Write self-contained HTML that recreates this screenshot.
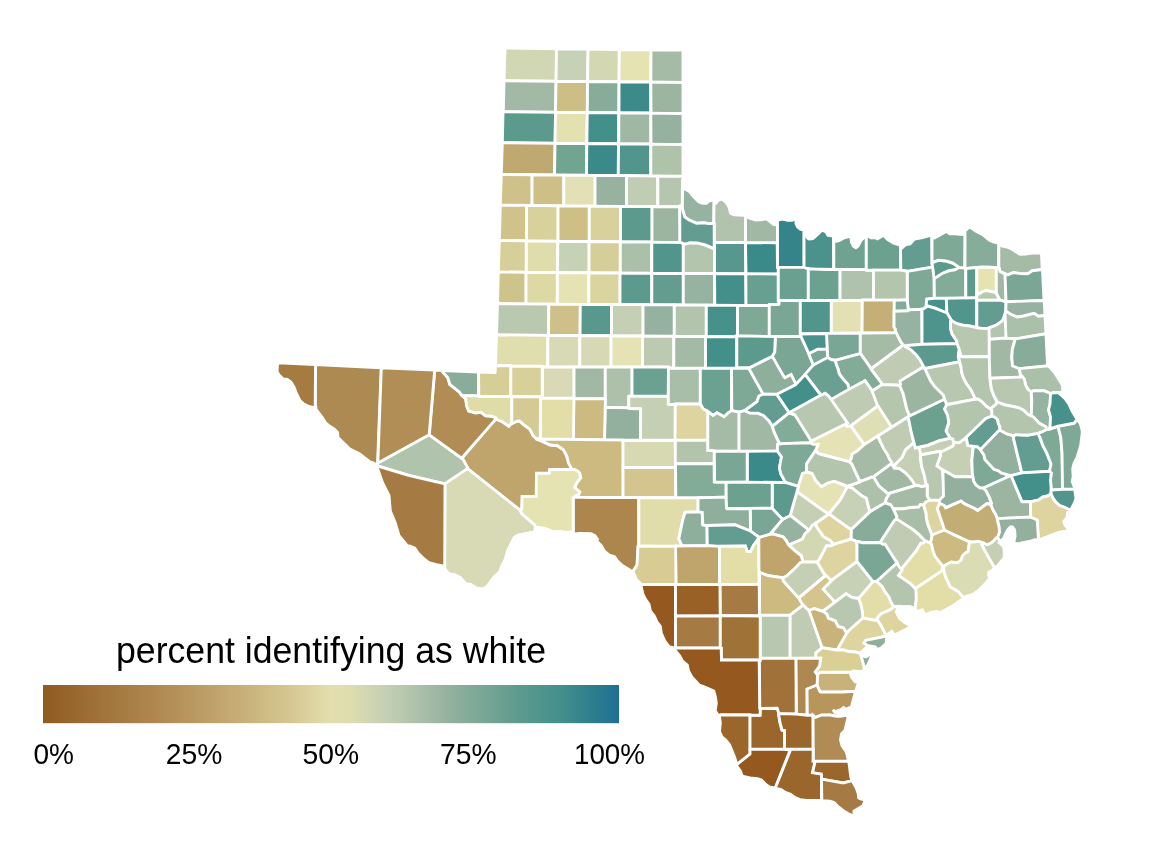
<!DOCTYPE html>
<html lang="en">
<head>
<meta charset="utf-8">
<title>percent identifying as white</title>
<style>
html,body{margin:0;padding:0;background:#fff;}
body{width:1152px;height:864px;overflow:hidden;position:relative;font-family:"Liberation Sans",sans-serif;}
svg{position:absolute;left:0;top:0;display:block;}
.c polygon{stroke:#fff;stroke-width:2.7;stroke-linejoin:miter;stroke-miterlimit:3;}
text{font-family:"Liberation Sans",sans-serif;fill:#000;}
</style>
</head>
<body>
<svg width="1152" height="864" viewBox="0 0 1152 864">
<g class="c">
<polygon fill="#D2D7B3" points="505.1,48.9 504.1,80.6 555.9,81.1 556.4,48.9 506.4,48.1"/>
<polygon fill="#C6D1B5" points="556.6,48.9 556.1,81.1 587.4,81.4 587.9,49.1"/>
<polygon fill="#D3D8B3" points="588.1,49.1 587.6,81.4 618.9,81.6 619.1,49.6"/>
<polygon fill="#E5E3B2" points="619.4,49.6 619.1,81.6 650.6,81.9 650.9,49.9"/>
<polygon fill="#A5BBA6" points="651.1,49.9 650.9,81.9 682.9,82.4 682.9,50.9 681.6,50.1"/>
<polygon fill="#A2B9A5" points="504.1,80.9 503.4,111.6 555.4,112.1 555.9,81.4"/>
<polygon fill="#CDBE86" points="556.1,81.4 555.6,112.1 587.1,112.4 587.4,81.6"/>
<polygon fill="#87AC9A" points="587.6,81.6 587.4,112.4 618.6,112.6 618.9,81.9"/>
<polygon fill="#3C8A8A" points="619.1,81.9 619.1,112.9 650.6,112.9 650.6,82.1"/>
<polygon fill="#9BB5A1" points="650.9,82.1 651.1,113.1 682.9,113.4 682.9,82.6"/>
<polygon fill="#5D9A8E" points="503.1,111.9 502.4,142.6 554.9,143.1 555.4,112.4"/>
<polygon fill="#E4E1B1" points="555.6,112.4 555.1,143.1 586.6,143.4 587.1,112.6"/>
<polygon fill="#43908B" points="587.4,112.6 586.9,143.4 618.4,143.6 618.6,112.9"/>
<polygon fill="#9FB8A3" points="618.9,112.9 618.9,143.9 650.6,143.9 650.6,113.1"/>
<polygon fill="#95B2A0" points="650.9,113.1 651.1,144.1 682.9,144.4 682.9,113.6"/>
<polygon fill="#C0A970" points="502.4,142.9 501.4,174.4 554.4,174.9 554.9,143.4"/>
<polygon fill="#71A592" points="555.1,143.4 554.6,174.9 586.4,175.1 586.6,143.6"/>
<polygon fill="#3B8A8A" points="586.9,143.6 586.6,175.1 618.1,175.4 618.4,143.9"/>
<polygon fill="#52958D" points="618.6,143.9 618.4,175.4 650.6,175.9 650.6,144.1"/>
<polygon fill="#AFC2AA" points="650.9,144.1 650.9,175.9 682.9,176.1 682.9,144.6"/>
<polygon fill="#CFC189" points="501.4,174.6 500.4,205.1 531.9,205.4 531.9,174.9"/>
<polygon fill="#CEBF87" points="532.1,174.9 532.1,205.4 563.6,205.9 563.6,175.1"/>
<polygon fill="#E2E0B4" points="563.9,175.1 563.9,205.9 594.9,206.1 594.9,175.4"/>
<polygon fill="#97B3A0" points="595.1,175.4 595.1,206.1 626.4,206.4 626.4,175.6"/>
<polygon fill="#C0CDB3" points="626.6,175.6 626.6,206.4 657.6,206.6 657.6,176.1"/>
<polygon fill="#B5C6AE" points="657.9,176.1 657.9,206.6 679.6,206.6 679.9,204.9 680.9,206.9 682.1,207.6 682.4,180.1 682.9,179.6 682.9,176.4"/>
<polygon fill="#CFC28B" points="500.4,205.4 499.4,240.4 526.4,240.6 526.4,205.4"/>
<polygon fill="#D8D19C" points="526.6,205.4 526.6,240.9 557.9,241.1 557.9,205.9"/>
<polygon fill="#CEBF87" points="558.1,205.9 558.1,241.4 589.1,241.4 589.1,206.1"/>
<polygon fill="#D8D19B" points="589.4,206.1 589.4,241.6 620.4,241.6 620.4,206.4"/>
<polygon fill="#5C9A8E" points="620.6,206.4 620.6,241.9 651.9,241.9 651.9,206.6"/>
<polygon fill="#9BB5A1" points="652.1,206.6 652.1,242.1 679.9,242.4 679.6,206.9"/>
<polygon fill="#D7CF99" points="499.4,240.6 498.4,271.9 526.1,272.1 526.1,240.9"/>
<polygon fill="#E0DDAD" points="526.4,240.9 526.4,272.4 557.4,272.4 557.6,241.4"/>
<polygon fill="#C7D1B5" points="557.9,241.4 557.6,272.6 588.9,272.6 588.9,241.6"/>
<polygon fill="#D6CE98" points="589.1,241.6 589.1,272.9 620.1,272.9 620.1,241.9"/>
<polygon fill="#AAC0A9" points="620.4,241.9 620.4,273.1 651.6,273.1 651.6,242.1"/>
<polygon fill="#52958D" points="651.9,242.1 651.9,273.1 683.1,273.4 683.1,243.6 680.9,242.6"/>
<polygon fill="#B4C5AD" points="683.4,243.9 683.4,273.4 714.4,273.4 714.4,242.9 714.1,248.9 704.6,244.9 697.4,243.1 690.1,242.9 684.4,244.4"/>
<polygon fill="#58978D" points="714.6,242.6 714.6,273.4 745.6,273.6 745.4,242.6"/>
<polygon fill="#3B8A8A" points="745.6,242.6 746.1,273.9 778.1,273.9 778.1,267.6 777.4,267.4 777.1,242.9"/>
<polygon fill="#CFC38C" points="498.4,272.1 497.6,301.9 499.6,303.6 525.9,303.9 525.9,272.4"/>
<polygon fill="#DDD8A4" points="526.1,272.4 526.1,303.9 557.1,304.1 557.1,272.6"/>
<polygon fill="#E5E3B3" points="557.4,272.6 557.4,304.1 588.6,304.4 588.6,272.9"/>
<polygon fill="#DAD49F" points="588.9,272.9 588.9,304.4 619.9,304.4 619.9,273.1"/>
<polygon fill="#5D9A8E" points="620.1,273.1 620.1,304.4 651.6,304.6 651.6,273.4"/>
<polygon fill="#649D8F" points="651.9,273.4 651.9,304.6 683.1,304.9 683.1,273.6"/>
<polygon fill="#96B2A0" points="683.4,273.6 683.4,304.9 714.6,305.1 714.4,273.6"/>
<polygon fill="#43908B" points="714.6,273.6 714.9,305.1 745.9,305.4 745.6,273.9"/>
<polygon fill="#67A090" points="745.9,273.9 746.1,305.4 769.1,305.4 769.4,304.4 778.9,304.1 778.9,301.4 778.1,300.9 778.1,274.1"/>
<polygon fill="#B9C9B0" points="497.6,302.1 496.6,334.6 548.4,335.4 548.6,304.1 499.6,303.9"/>
<polygon fill="#CFC089" points="548.9,304.1 548.6,335.4 579.9,335.4 580.1,304.4"/>
<polygon fill="#59988D" points="580.4,304.4 580.1,335.6 611.4,335.6 611.4,304.6"/>
<polygon fill="#C4CFB4" points="611.6,304.6 611.6,335.9 642.9,335.9 642.9,304.6"/>
<polygon fill="#95B2A0" points="643.1,304.6 643.1,336.1 674.1,336.1 674.1,304.9"/>
<polygon fill="#B2C4AC" points="674.4,304.9 674.4,336.4 706.1,336.6 706.1,305.1"/>
<polygon fill="#47918B" points="706.4,305.1 706.4,336.6 736.6,336.6 736.6,335.9 737.4,335.9 737.4,305.4"/>
<polygon fill="#7FA997" points="737.6,305.4 737.6,335.9 769.1,336.4 769.1,305.6"/>
<polygon fill="#E1DEAD" points="496.6,334.9 495.6,364.1 497.1,365.6 510.9,365.6 511.1,366.1 542.1,366.1 542.6,366.9 547.6,366.9 547.6,335.4"/>
<polygon fill="#D8DAB5" points="547.9,335.4 547.9,366.9 579.6,366.9 579.6,335.6"/>
<polygon fill="#D7D9B4" points="579.9,335.6 579.9,366.9 610.9,366.9 610.9,335.9"/>
<polygon fill="#E5E3B3" points="611.1,335.9 611.1,366.9 642.4,366.9 642.4,336.1"/>
<polygon fill="#BCCAB1" points="642.6,336.1 642.6,366.9 668.4,366.9 668.9,367.9 673.6,367.9 673.6,336.4"/>
<polygon fill="#A3BAA5" points="673.9,336.4 673.9,368.1 705.4,368.1 705.4,336.6"/>
<polygon fill="#43908B" points="705.6,336.6 705.6,368.1 736.6,368.1 736.6,336.9"/>
<polygon fill="#5D9A8E" points="768.9,358.1 749.4,367.9 736.9,368.1 749.1,368.1"/>
<polygon fill="#BFA56B" points="496.4,419.6 495.1,420.1 489.6,426.1 462.4,457.9 468.4,469.1 519.4,509.6 520.6,510.1 521.6,509.1 522.1,496.4 536.1,496.1 536.4,473.1 549.1,473.1 549.6,469.4 571.9,469.1 568.4,463.1 566.6,456.1 563.6,450.1 557.4,445.9 550.1,445.1 542.1,441.4 536.6,439.4 536.6,438.6 535.4,438.1 532.9,435.4 529.6,429.1 523.1,424.4 519.9,421.4 517.6,421.1 511.1,423.9 508.9,426.4 501.9,421.6"/>
<polygon fill="#AD8A52" points="315.6,364.6 315.4,407.1 315.9,407.1 316.1,409.4 322.4,417.4 325.4,422.4 329.4,425.9 334.4,429.1 337.6,432.4 338.1,437.4 349.9,448.9 359.4,453.6 369.4,461.4 374.1,463.1 375.4,464.1 375.9,465.4 377.4,465.6 381.1,367.9"/>
<polygon fill="#B0C3AD" points="467.9,468.4 462.1,457.9 461.6,458.4 429.1,434.9 377.9,463.1 377.6,465.1 377.9,465.9 408.4,475.1 444.1,483.6 445.4,483.4"/>
<polygon fill="#D9DAB5" points="542.6,367.1 542.6,396.9 542.1,397.6 542.6,398.1 573.9,398.1 573.9,367.1"/>
<polygon fill="#A0B8A4" points="574.1,367.1 574.1,398.6 605.1,398.6 605.1,367.1"/>
<polygon fill="#ADC1AA" points="605.4,367.1 605.4,406.6 606.1,407.4 627.9,407.6 628.6,406.9 628.6,396.4 629.4,395.9 631.9,395.6 631.9,367.1"/>
<polygon fill="#6AA190" points="632.1,367.1 632.1,396.1 668.1,396.1 668.4,367.1"/>
<polygon fill="#C4CFB4" points="628.9,396.4 628.9,406.9 628.1,407.6 628.9,408.4 640.6,408.9 640.6,440.1 675.1,439.9 675.1,404.6 668.9,404.6 668.1,404.1 668.1,396.4"/>
<polygon fill="#93B09F" points="605.4,407.9 604.6,439.9 640.4,440.1 640.4,408.9 628.9,408.6 628.1,407.9 605.9,407.4"/>
<polygon fill="#CDBA80" points="573.9,398.9 573.6,439.4 604.4,439.9 605.1,407.9 605.6,407.4 605.1,406.6 605.4,398.9"/>
<polygon fill="#E3DDA8" points="541.1,397.6 540.6,398.1 540.6,438.9 573.4,439.4 573.9,398.4 542.6,398.4 541.9,397.6"/>
<polygon fill="#CDBA80" points="536.6,439.1 542.1,441.1 550.1,444.9 557.4,445.6 563.4,449.6 566.9,456.1 568.6,463.1 572.1,469.4 574.6,469.4 577.9,471.1 579.9,473.4 580.9,477.6 576.9,482.9 574.9,487.4 579.9,491.9 578.4,495.1 576.4,495.6 574.6,496.6 574.9,497.1 622.9,497.4 622.9,440.6 623.6,440.1 540.6,439.1 540.1,439.6 537.4,438.9"/>
<polygon fill="#D7D9B3" points="623.1,440.6 623.1,467.4 675.4,467.4 675.1,440.4"/>
<polygon fill="#D3C58D" points="623.1,467.6 623.1,497.4 675.6,497.6 675.4,467.6"/>
<polygon fill="#96B2A0" points="682.9,179.9 682.4,208.4 684.9,216.9 689.1,219.9 696.4,223.1 704.1,222.6 708.1,223.4 713.6,223.1 713.9,201.4 712.4,200.4 709.4,200.9 706.4,203.4 702.4,203.4 698.6,201.9 693.4,196.6 689.4,191.6 685.4,189.4 682.9,188.6"/>
<polygon fill="#B1C3AD" points="714.1,201.6 713.9,223.1 714.4,223.6 714.4,241.9 714.9,242.4 745.4,242.4 745.4,215.9 744.1,215.4 734.1,214.9 730.9,213.6 730.4,213.1 729.1,207.6 726.6,203.1 722.6,199.4 721.9,199.1 718.9,199.9 716.1,203.1"/>
<polygon fill="#A0B8A4" points="745.6,216.1 745.6,242.4 776.9,242.6 777.4,242.1 777.4,221.6 775.9,224.4 774.6,224.9 773.6,224.6 767.6,219.6 766.1,218.9 760.9,219.9 755.4,220.1 748.9,218.1"/>
<polygon fill="#35848A" points="778.6,219.9 777.6,221.1 777.6,242.1 777.1,242.6 777.6,243.1 777.6,267.4 803.9,267.1 803.9,229.9 800.6,229.4 797.6,227.1 795.9,223.6 795.9,219.9 794.6,219.1 792.4,220.4 787.9,220.4 782.6,219.1"/>
<polygon fill="#4A928C" points="804.1,229.9 804.1,267.1 807.1,268.4 810.1,268.9 833.6,269.4 833.4,236.9 831.9,235.9 827.9,235.4 825.9,232.1 822.6,230.4 820.9,231.4 812.9,238.6 809.1,239.1 807.4,238.1 805.1,230.9"/>
<polygon fill="#6FA291" points="833.9,237.6 833.9,269.4 866.1,269.4 866.1,236.6 864.4,237.4 860.6,241.1 858.4,245.9 855.9,247.9 853.4,246.4 851.4,242.4 850.9,238.1 850.1,236.6 849.4,236.4 843.6,238.1 839.6,240.6 836.6,241.4"/>
<polygon fill="#69A090" points="778.4,267.4 778.4,300.9 779.1,301.4 779.6,300.4 808.1,300.4 808.1,268.9 804.1,267.4"/>
<polygon fill="#6CA190" points="808.4,268.9 808.4,300.4 839.9,300.4 839.9,269.6 825.9,269.6"/>
<polygon fill="#AFC2AB" points="840.1,269.6 840.1,300.4 862.1,300.4 862.4,299.9 873.4,299.9 873.4,270.4 866.4,270.4 866.1,269.6"/>
<polygon fill="#79A695" points="769.4,304.6 769.4,336.4 800.6,336.1 800.4,334.1 800.9,333.6 800.1,333.4 800.1,300.6 779.6,300.6 779.1,301.6 779.1,304.1 778.6,304.6"/>
<polygon fill="#52958D" points="800.4,300.6 800.4,333.4 815.9,333.6 831.1,333.1 831.1,300.6"/>
<polygon fill="#E3E1B3" points="831.4,300.6 831.4,333.1 861.9,332.9 862.1,300.6"/>
<polygon fill="#E5E3B5" points="864.1,444.6 851.1,426.4 847.1,426.4 845.6,424.9 844.1,424.9 810.6,441.4 809.6,442.4 813.1,444.1 818.1,444.4 816.1,449.6 816.1,450.6 818.4,453.4 849.1,461.6 850.1,460.6 851.4,457.9 851.9,454.1 857.1,450.9"/>
<polygon fill="#A67B43" points="759.1,582.6 758.6,584.4 720.1,584.4 720.4,615.4 758.1,615.6 759.4,615.1"/>
<polygon fill="#6CA190" points="866.4,236.6 866.4,270.1 900.6,269.9 900.4,245.9 899.1,244.9 893.1,242.9 887.4,239.4 883.9,235.9 883.1,235.6 877.4,238.9 874.6,237.6 870.6,237.9 867.9,235.9"/>
<polygon fill="#639C90" points="931.6,236.6 929.6,235.6 921.4,237.9 914.6,239.1 910.1,243.9 905.4,244.9 902.4,247.6 900.6,246.1 900.9,270.1 908.4,271.1 932.4,267.1 931.9,263.9"/>
<polygon fill="#7FA997" points="964.9,231.1 962.1,234.6 955.1,233.9 949.6,233.9 946.6,231.4 934.4,238.1 933.6,238.1 932.1,237.1 932.1,262.6 938.4,260.1 946.6,261.1 952.9,263.1 959.4,267.6 964.6,267.9"/>
<polygon fill="#87AC9A" points="968.9,227.6 965.1,230.9 965.1,267.6 964.6,268.1 966.4,268.4 981.9,266.9 994.6,267.4 998.6,267.1 998.6,243.9 997.4,242.9 993.9,242.1 989.4,240.4 982.9,234.9 976.4,231.6 970.9,227.9 969.6,227.4"/>
<polygon fill="#A5BBA6" points="998.9,244.1 998.9,266.9 1000.1,271.6 1007.1,274.6 1008.1,274.6 1013.4,272.4 1019.9,273.4 1027.9,273.6 1032.1,270.6 1042.1,269.4 1041.4,253.6 1040.9,253.1 1034.1,252.9 1025.6,254.1 1019.9,254.4 1011.6,249.1 1007.1,247.1 1001.6,245.9"/>
<polygon fill="#5D9A8E" points="932.1,262.9 934.1,278.6 942.6,273.1 948.9,270.6 954.9,269.6 958.9,267.6 952.9,263.4 946.6,261.4 938.4,260.4"/>
<polygon fill="#82AB98" points="965.6,268.6 964.4,268.1 959.1,267.6 954.9,269.9 948.9,270.9 942.1,273.6 934.1,278.9 934.4,298.1 965.6,297.9"/>
<polygon fill="#7FA997" points="932.6,267.1 907.4,271.4 907.4,301.4 908.4,308.9 908.9,309.9 921.4,309.1 923.6,308.6 925.9,307.1 926.6,299.1 934.1,298.1 933.9,278.1"/>
<polygon fill="#B3C5AD" points="873.6,270.1 873.6,299.9 900.4,300.1 907.1,299.6 907.1,271.4 900.6,270.1"/>
<polygon fill="#82AB98" points="907.1,299.9 894.1,300.4 894.1,311.1 908.1,310.6 908.6,309.9 908.1,308.9"/>
<polygon fill="#C4AF76" points="862.4,300.1 862.1,332.9 893.9,332.6 895.6,331.9 895.1,329.1 893.9,326.9 894.1,300.1"/>
<polygon fill="#47918B" points="926.9,299.1 926.1,306.9 927.9,305.9 935.4,308.1 946.9,312.9 946.1,298.4 934.1,298.4"/>
<polygon fill="#52958D" points="976.6,297.6 946.4,298.4 946.9,312.4 951.4,320.4 957.1,323.6 964.4,325.4 969.9,325.9 976.1,327.4 976.6,326.4"/>
<polygon fill="#5D9A8E" points="976.6,267.6 965.9,268.6 965.9,297.9 976.6,297.4"/>
<polygon fill="#E5E3B2" points="976.9,267.6 976.9,294.9 982.1,291.9 986.4,290.4 993.6,291.9 996.1,292.9 996.1,267.9 994.4,267.4 988.1,267.1"/>
<polygon fill="#B9C9B0" points="976.9,295.1 976.9,300.1 999.6,300.1 996.4,293.4 993.6,292.1 986.4,290.6 982.1,292.1"/>
<polygon fill="#A0B8A4" points="995.9,267.4 996.4,267.9 996.4,293.1 1000.1,300.1 1005.9,301.6 1004.9,273.9 999.9,271.6 998.9,267.1"/>
<polygon fill="#7AA795" points="1042.4,269.6 1032.1,270.9 1027.9,273.9 1019.9,273.6 1013.4,272.6 1008.1,274.9 1007.1,274.9 1005.1,273.9 1006.1,301.6 1043.9,300.4"/>
<polygon fill="#639C90" points="1005.9,301.9 999.9,300.1 976.9,300.4 976.9,326.4 976.4,327.4 982.1,328.4 988.1,328.1 995.1,325.6 1001.6,321.4 1003.4,318.9 1005.6,311.4"/>
<polygon fill="#96B2A0" points="1044.1,300.9 1039.6,300.6 1006.1,301.9 1005.9,311.1 1011.1,314.4 1017.1,316.9 1023.4,315.9 1034.1,313.1 1038.4,316.1 1044.9,315.4"/>
<polygon fill="#ABC0A9" points="1005.6,311.6 1004.4,316.6 1004.6,315.9 1005.1,315.9 1006.1,338.1 1016.6,338.6 1045.9,333.6 1044.9,315.6 1038.4,316.4 1034.1,313.4 1023.4,316.1 1017.1,317.1 1011.1,314.6 1006.1,311.4"/>
<polygon fill="#BFCCB3" points="896.1,519.4 894.4,520.6 880.1,542.4 882.6,544.1 885.1,544.1 892.6,556.1 897.1,562.4 897.9,564.4 900.4,568.1 901.9,568.4 916.4,550.4 920.9,543.1 922.4,543.4 923.6,542.9 924.9,540.9 919.1,534.9 911.4,528.4 897.1,519.4"/>
<polygon fill="#C2AE74" points="939.6,503.4 937.4,508.6 944.6,530.1 969.9,541.9 974.1,541.9 978.1,541.1 984.4,543.1 986.1,544.4 987.4,544.6 991.4,542.6 993.6,540.9 996.1,537.9 997.6,537.1 999.4,532.6 999.1,527.6 998.4,523.6 997.9,522.9 997.4,519.1 995.9,515.1 993.9,511.9 990.6,504.6 987.1,503.6 977.6,510.6 975.4,508.9 964.4,503.9 961.1,501.1 945.6,507.9 944.4,505.6"/>
<polygon fill="#C9B27A" points="817.6,674.9 817.1,685.1 819.9,691.1 820.6,691.9 842.1,691.9 855.6,691.1 857.9,683.9 857.9,682.6 856.6,681.9 855.1,681.9 851.4,677.1 850.6,674.4 851.9,672.4 820.1,672.4"/>
<polygon fill="#79A695" points="775.9,336.6 775.4,339.4 774.9,352.1 772.1,356.6 772.4,356.4 776.9,364.6 784.4,377.4 784.9,377.6 791.1,374.4 795.6,383.6 796.1,383.9 803.4,376.4 813.1,365.1 806.1,347.6 800.9,336.4"/>
<polygon fill="#4A928C" points="826.4,333.6 800.6,334.1 800.9,336.1 808.9,353.6 817.6,349.1 827.1,349.1 826.9,337.6"/>
<polygon fill="#79A695" points="827.1,349.4 817.6,349.4 808.9,353.9 813.4,364.9 827.4,357.6"/>
<polygon fill="#7AA795" points="826.6,333.4 827.9,357.6 831.1,359.4 835.9,360.1 860.1,353.6 860.1,333.1"/>
<polygon fill="#A5BBA6" points="895.9,332.1 893.9,332.9 860.4,333.1 860.4,353.4 871.1,368.6 902.4,345.4 902.9,344.4 900.6,341.9"/>
<polygon fill="#82AB98" points="835.4,360.4 836.1,363.6 838.4,369.4 839.4,373.9 843.1,378.9 847.9,384.1 849.4,389.1 865.1,380.6 872.1,390.6 882.4,384.4 871.1,369.4 870.9,368.4 860.4,353.6"/>
<polygon fill="#69A090" points="827.6,357.6 813.4,365.1 805.1,374.4 821.1,395.1 825.1,393.1 828.1,395.4 831.4,399.4 849.1,389.1 847.6,384.1 842.9,378.9 839.1,373.9 838.1,369.4 836.4,365.1 835.1,360.4 831.1,359.6"/>
<polygon fill="#BFCCB3" points="865.1,380.9 848.1,389.9 831.1,399.6 847.6,423.1 845.6,424.6 847.1,426.1 850.6,425.9 877.6,405.9 871.9,390.4"/>
<polygon fill="#B5C6AE" points="882.1,384.6 872.1,391.1 877.6,405.4 891.6,426.9 892.1,426.9 906.6,417.6 908.1,417.4 909.1,415.1 906.6,409.1 902.9,393.1 899.9,386.1 897.4,385.1"/>
<polygon fill="#DFDFB5" points="877.9,405.9 850.9,425.9 864.4,444.4 891.4,427.1"/>
<polygon fill="#BFCCB3" points="924.1,367.6 919.6,359.4 916.1,354.9 911.4,350.4 902.9,344.9 901.1,346.9 871.1,368.9 882.6,384.4 897.4,384.9 899.6,385.6 900.4,384.1 899.9,381.6 900.1,380.9 921.6,367.9"/>
<polygon fill="#5D9A8E" points="736.9,335.9 736.9,367.6 749.4,367.6 768.6,357.9 771.9,356.6 774.6,352.1 775.1,339.4 775.6,336.6"/>
<polygon fill="#A9BEA8" points="668.4,368.4 668.4,404.1 675.1,404.4 675.4,403.9 700.1,403.9 700.1,368.4"/>
<polygon fill="#6AA190" points="700.4,368.4 700.4,403.9 703.1,408.6 707.6,411.1 713.1,415.4 716.9,412.6 724.4,416.6 728.1,412.9 731.4,410.6 731.4,368.4"/>
<polygon fill="#7FA997" points="748.6,368.4 731.6,368.4 731.9,410.6 738.1,411.9 739.9,411.9 744.4,410.6 756.6,401.9 758.9,395.9 763.1,394.1"/>
<polygon fill="#8DAF9C" points="772.4,356.6 748.9,368.4 763.1,393.9 763.6,394.1 776.9,394.1 795.9,384.4 791.1,374.6 784.9,377.9 784.1,377.4"/>
<polygon fill="#43908B" points="805.1,374.6 795.6,384.9 776.9,394.4 789.1,412.6 817.9,396.6 820.9,395.4"/>
<polygon fill="#639C90" points="763.4,394.1 759.1,395.9 757.1,401.6 744.9,410.6 749.6,412.9 757.9,413.1 763.4,415.4 769.4,421.4 772.4,426.1 788.4,413.4 788.9,412.4 776.6,394.4"/>
<polygon fill="#A5BBA6" points="738.9,412.1 731.6,410.6 728.1,413.1 724.1,416.9 716.9,412.9 713.1,415.6 707.9,411.6 707.9,450.4 714.1,450.6 714.9,451.1 738.9,451.1"/>
<polygon fill="#A0B8A4" points="739.1,412.1 739.1,451.1 777.1,451.1 777.4,444.4 779.4,444.1 779.9,443.4 779.1,443.1 774.1,432.4 772.1,425.9 769.1,421.4 763.4,415.6 757.9,413.4 749.6,413.1 744.6,410.6"/>
<polygon fill="#DDD4A0" points="675.4,404.1 675.1,440.1 707.6,440.1 707.6,411.4 703.1,408.9 700.4,404.1"/>
<polygon fill="#B2C4AC" points="675.4,440.4 675.4,466.9 675.6,463.6 714.1,463.6 714.1,450.9 707.6,450.4 707.6,440.4"/>
<polygon fill="#82AB98" points="772.4,426.4 774.4,432.4 779.4,443.1 780.1,443.6 809.4,442.6 810.6,441.1 811.1,441.1 794.9,414.9 788.9,413.1"/>
<polygon fill="#B8C8B0" points="825.1,393.4 817.9,396.9 789.1,412.9 794.9,414.6 811.4,440.9 844.1,424.6 845.4,424.6 846.1,423.6 847.4,423.1 828.6,396.1"/>
<polygon fill="#A5BBA6" points="877.6,436.1 864.4,444.6 857.1,451.1 852.1,454.1 851.6,457.9 849.6,461.9 851.6,463.6 859.9,481.4 871.9,476.9 873.9,477.6 874.6,475.9 890.4,464.1 891.6,463.6 891.9,462.9 889.6,459.4 886.9,453.6 883.4,448.4"/>
<polygon fill="#BFCCB3" points="908.1,417.6 907.1,417.6 877.9,436.1 883.6,448.4 887.1,453.6 889.9,459.4 892.1,462.9 891.9,463.9 893.9,467.4 895.1,464.4 901.9,457.6 905.4,449.9 913.6,442.6"/>
<polygon fill="#C4CFB4" points="952.9,439.4 952.1,438.6 949.4,438.4 939.1,440.9 927.9,445.4 918.9,447.4 920.9,454.4 922.9,454.4 939.6,451.1 941.4,451.9 953.1,445.6 953.9,442.4 953.1,441.6"/>
<polygon fill="#C4CFB4" points="913.4,442.9 905.6,449.9 902.1,457.6 895.4,464.4 893.9,467.6 899.4,468.4 904.9,472.4 909.6,477.1 913.4,482.1 914.9,485.6 917.6,485.1 921.1,486.4 922.4,486.4 926.9,485.4 925.6,482.9 923.9,474.4 921.4,466.1 920.1,456.9 920.6,453.9 918.9,447.6 917.9,447.4 915.4,448.1 913.9,442.9"/>
<polygon fill="#B8C8B0" points="939.9,451.4 922.9,454.6 920.9,454.6 920.9,455.6 920.4,456.1 921.6,466.1 924.1,474.4 925.9,482.9 927.4,485.4 927.4,496.1 929.6,500.1 937.4,500.1 938.9,500.6 943.4,495.9 943.1,480.9 942.4,469.9 936.9,465.9 940.4,455.9 940.4,453.4 940.9,452.1"/>
<polygon fill="#A0B8A4" points="874.1,477.1 874.1,478.1 879.4,486.4 888.1,493.6 914.6,485.6 913.1,482.1 909.4,477.1 904.9,472.6 899.4,468.6 894.1,468.1 891.6,463.9 890.4,464.4 874.6,476.1"/>
<polygon fill="#A5BBA6" points="927.1,485.4 922.4,486.6 921.1,486.6 917.6,485.4 914.6,485.9 888.4,493.6 888.9,494.4 886.4,498.6 885.4,502.9 890.6,504.6 893.4,509.1 893.9,508.6 903.6,508.6 910.6,507.4 918.6,506.9 920.4,504.4 923.6,504.9 925.4,502.4 929.4,500.1 927.1,496.1"/>
<polygon fill="#A9BEA8" points="893.6,509.1 896.9,516.6 896.9,519.1 913.4,529.6 919.1,534.6 924.9,540.6 928.9,542.4 929.9,542.4 930.6,541.6 931.6,538.4 931.9,534.9 927.6,524.1 926.1,517.4 926.1,514.4 923.6,505.1 920.4,504.6 918.6,507.1 910.6,507.6 903.6,508.9"/>
<polygon fill="#3B8A8A" points="777.4,451.1 747.4,451.4 747.4,482.1 785.4,482.4 780.6,473.9 779.4,467.4 781.4,456.9"/>
<polygon fill="#7AA795" points="714.4,451.1 714.6,482.1 747.1,481.9 747.1,451.4"/>
<polygon fill="#7FA997" points="817.9,444.4 813.1,444.4 809.9,442.9 783.1,443.6 777.6,444.4 777.6,451.4 781.6,456.9 780.4,462.1 779.6,468.6 780.9,473.9 785.6,482.4 796.9,485.9 798.4,485.9 802.4,473.6 806.4,472.1 806.4,463.9 815.1,450.9 816.1,450.1 815.9,449.6"/>
<polygon fill="#B3C5AD" points="806.6,463.9 806.6,471.9 812.1,473.4 815.6,480.4 821.4,486.6 827.6,483.1 834.4,481.1 847.1,486.1 848.1,486.1 859.9,481.9 851.4,463.6 848.9,461.6 820.6,454.4 817.9,453.4 815.6,450.6"/>
<polygon fill="#E5E3B5" points="802.6,473.6 798.4,486.1 798.6,486.6 797.1,491.6 825.6,512.1 828.9,513.6 840.1,499.9 847.4,486.4 834.4,481.4 827.6,483.4 821.4,486.9 815.4,480.4 812.1,473.6 806.6,472.1"/>
<polygon fill="#C7D1B5" points="847.4,486.6 840.4,499.9 829.1,513.9 851.1,529.6 869.6,511.9 866.1,497.9 862.1,496.1 852.4,488.1"/>
<polygon fill="#ADC1AA" points="871.9,477.1 867.4,479.1 861.1,481.1 859.4,482.4 847.6,486.4 852.4,487.9 862.1,495.9 866.4,497.9 869.9,511.6 884.9,502.9 886.1,498.6 888.6,494.4 879.1,486.4 873.9,477.9"/>
<polygon fill="#87AC9A" points="890.9,505.1 885.1,502.9 869.9,511.9 851.4,529.6 851.1,539.1 856.6,541.4 859.4,541.6 862.1,542.6 879.9,542.4 894.1,520.6 895.1,519.6 896.6,519.1 896.4,515.9 892.9,508.4"/>
<polygon fill="#DDD4A0" points="815.4,523.6 816.9,526.9 823.4,536.6 830.4,540.6 833.4,544.4 850.9,539.1 851.1,529.9 829.1,514.1"/>
<polygon fill="#C4CFB4" points="797.1,491.9 790.4,515.4 806.4,527.9 808.9,530.4 812.1,525.4 828.9,513.9 825.6,512.4"/>
<polygon fill="#96B2A0" points="790.4,515.6 782.6,519.4 770.4,534.1 773.4,533.9 783.1,536.6 786.4,540.6 788.6,544.9 802.4,538.9 805.1,533.4 808.6,530.6 806.4,528.1"/>
<polygon fill="#D3D8B3" points="815.1,523.6 812.1,525.6 809.1,530.4 805.4,533.4 802.4,539.1 788.9,545.1 796.1,551.6 801.4,555.6 803.1,561.9 817.6,561.6 823.4,552.1 826.4,545.9 830.9,545.6 833.1,544.4 830.4,540.9 823.1,536.6 816.6,526.9"/>
<polygon fill="#5D9A8E" points="772.4,482.6 772.4,508.4 780.9,517.6 782.9,519.1 790.1,515.4 798.4,486.4 785.9,482.6"/>
<polygon fill="#6CA190" points="726.1,482.4 726.1,499.9 726.9,508.6 772.1,508.1 772.1,482.6 747.1,482.1"/>
<polygon fill="#7AA795" points="750.6,531.1 759.4,537.4 769.6,534.4 782.4,519.4 772.1,508.4 750.4,508.4"/>
<polygon fill="#BFA56B" points="759.6,537.4 758.9,539.4 759.1,575.4 759.6,572.4 768.1,575.4 782.9,577.6 786.6,575.9 794.6,568.6 800.4,562.4 802.9,561.9 801.1,555.6 796.1,551.9 788.4,544.9 786.1,540.6 783.1,536.9 773.4,534.1 769.9,534.4"/>
<polygon fill="#AD864E" points="573.9,497.1 573.4,497.6 573.4,533.4 574.6,533.9 579.9,533.4 590.9,533.6 594.9,535.6 597.6,539.4 597.1,541.4 601.6,545.9 604.4,551.1 609.4,555.1 614.6,556.6 617.6,561.1 621.9,565.1 632.4,571.6 633.1,572.6 633.1,570.9 636.9,565.1 637.9,546.4 639.1,546.1 638.6,545.6 638.6,497.6 591.1,497.6"/>
<polygon fill="#E0DDAA" points="638.9,497.6 638.9,545.6 657.4,546.1 675.4,546.1 681.9,545.6 678.6,538.9 681.4,525.1 684.6,512.9 685.1,512.1 697.9,511.6 697.9,497.9"/>
<polygon fill="#8DAF9C" points="685.1,512.4 682.6,520.9 678.9,538.9 682.1,545.6 706.9,545.6 706.9,525.6 702.6,524.9 702.1,512.4 699.4,511.9"/>
<polygon fill="#82AB98" points="675.6,463.9 675.9,497.4 707.1,497.6 725.9,496.9 725.9,482.4 714.6,482.4 714.1,481.9 714.1,463.9"/>
<polygon fill="#8DAF9C" points="698.1,497.9 698.1,511.6 702.4,512.4 702.9,524.9 705.6,525.4 735.1,524.6 750.4,530.9 750.1,508.9 726.9,508.9 726.4,508.4 725.9,497.1"/>
<polygon fill="#639C90" points="707.1,525.6 707.4,545.6 715.6,546.1 745.4,545.9 747.1,551.4 750.4,551.6 753.4,545.4 759.1,537.4 750.4,531.1 735.1,524.9"/>
<polygon fill="#BFA56B" points="675.6,546.1 676.1,584.4 719.4,584.4 719.4,546.4 707.1,545.6"/>
<polygon fill="#E3DDA8" points="759.1,537.6 753.6,545.4 750.4,551.9 746.9,551.4 745.4,546.1 719.6,546.4 719.6,584.4 758.6,584.1 758.6,582.9 759.1,582.4 758.6,564.6 758.6,539.4"/>
<polygon fill="#CDBA80" points="759.6,572.6 759.6,615.1 789.9,615.1 802.9,605.1 798.9,598.4 783.1,580.9 782.6,577.9 768.1,575.6"/>
<polygon fill="#C4CFB4" points="817.4,562.1 802.4,562.1 801.6,562.6 800.4,562.6 794.6,568.9 786.6,576.1 782.9,577.9 783.4,580.9 798.6,597.9 825.6,575.1 823.6,573.1 817.9,563.6"/>
<polygon fill="#D3C58D" points="825.9,575.4 798.9,598.1 802.9,604.9 808.9,610.4 814.4,608.4 822.6,611.1 834.9,602.1 823.1,589.1 831.4,580.6"/>
<polygon fill="#DDD4A0" points="855.6,541.1 851.4,539.4 850.4,539.4 835.4,543.9 830.9,545.9 826.6,545.9 819.1,560.1 817.4,561.9 823.9,573.1 831.4,580.4 856.9,561.4 856.9,544.6 856.1,541.6"/>
<polygon fill="#C7D1B5" points="857.1,561.6 833.6,578.9 823.4,589.1 834.9,601.9 846.1,593.6 851.9,597.1 858.6,598.4 872.9,581.6"/>
<polygon fill="#7AA795" points="856.1,541.4 857.1,544.6 857.1,561.4 872.9,581.4 876.4,581.4 896.9,562.9 885.1,544.4 882.6,544.4 880.1,542.6 862.1,542.9 859.4,541.9"/>
<polygon fill="#E3DDA8" points="873.1,581.6 859.4,597.6 858.9,598.9 860.6,603.1 861.6,607.1 863.1,618.1 877.9,620.6 877.1,618.1 880.9,613.6 890.4,609.6 893.9,606.9 891.4,603.4 888.6,596.6 884.6,591.4 882.1,586.4 876.6,581.6"/>
<polygon fill="#B3C5AD" points="897.1,562.9 876.6,581.4 882.4,586.4 884.9,591.4 888.9,596.6 890.9,601.9 893.9,606.6 898.9,606.1 901.9,606.6 910.1,606.6 915.1,608.1 916.1,598.9 915.9,590.4 915.4,588.9 910.4,583.6 898.4,575.4 901.9,570.6 901.9,568.6 900.1,568.1 897.6,564.4"/>
<polygon fill="#B8C8B0" points="846.1,593.9 822.9,611.4 826.9,613.9 828.4,618.1 835.1,620.6 838.1,626.4 843.4,627.6 846.9,633.1 848.4,630.9 862.9,617.9 862.1,610.6 860.9,604.9 858.6,598.6 851.9,597.4"/>
<polygon fill="#C8B37A" points="809.1,610.6 822.1,647.6 837.1,649.9 846.6,633.4 843.6,628.1 838.1,626.6 835.1,620.9 828.4,618.4 826.6,613.9 823.1,611.6 814.4,608.6"/>
<polygon fill="#DDD4A0" points="887.4,634.6 884.9,633.4 881.6,626.6 877.9,620.9 862.9,618.1 848.6,630.9 846.6,633.6 837.4,649.9 843.4,649.9 849.1,651.4 855.9,651.9 860.1,653.1 868.1,645.9 863.9,643.1 865.6,640.1 886.9,635.9"/>
<polygon fill="#DDD4A0" points="914.9,608.4 910.1,606.9 901.9,606.9 898.9,606.4 894.1,606.9 890.4,609.9 880.9,613.9 877.4,618.1 877.9,620.4 881.9,626.6 885.1,633.4 887.6,634.4 891.9,631.1 893.6,633.6 895.1,634.6 910.1,627.1 910.1,626.1 904.4,622.4 899.4,618.4 896.1,611.9 897.1,609.4 897.6,608.9 910.6,608.4 914.9,610.1"/>
<polygon fill="#8DAF9C" points="886.9,636.1 865.6,640.4 864.1,643.1 867.9,645.6 875.4,646.9 876.9,649.4 880.4,648.4 885.9,643.6"/>
<polygon fill="#8DAF9C" points="875.4,647.1 868.4,645.9 860.4,653.1 864.4,668.1 867.9,664.6 871.4,656.4 871.4,655.1 870.1,654.4 866.1,656.9 865.4,656.9 863.1,655.9 861.4,653.9 868.9,647.4 874.9,650.1 876.6,649.4"/>
<polygon fill="#DAD095" points="815.9,652.9 815.6,658.1 820.9,658.1 819.6,666.1 815.4,671.9 817.4,674.6 820.1,672.1 851.9,672.1 852.9,670.9 861.6,671.6 863.1,670.6 864.4,668.6 860.4,653.9 859.4,653.1 855.9,652.1 849.1,651.6 843.4,650.1 835.9,650.1 823.4,647.9 821.9,647.9"/>
<polygon fill="#BFCCB3" points="803.1,605.1 790.1,615.1 790.1,658.1 815.4,657.9 815.6,652.9 821.9,647.6 809.1,611.1"/>
<polygon fill="#B8C8B0" points="758.6,615.4 758.6,615.9 760.4,616.1 760.4,657.6 760.9,658.1 789.9,658.1 789.9,615.4"/>
<polygon fill="#639C90" points="679.9,205.1 679.9,242.1 684.4,244.1 690.1,242.6 697.4,242.9 704.6,244.6 714.1,248.6 714.1,242.9 714.6,242.4 714.1,241.9 714.1,223.6 708.1,223.6 704.1,222.9 696.4,223.4 689.1,220.1 684.6,216.9 682.1,207.9 680.6,206.9"/>
<polygon fill="#A0723A" points="760.9,658.4 760.4,658.9 760.4,660.4 759.4,660.6 759.9,708.6 760.4,709.1 760.9,708.4 777.1,708.1 778.9,713.6 796.1,713.9 795.9,658.4"/>
<polygon fill="#AE8850" points="820.6,658.1 796.1,658.4 796.6,714.1 806.9,714.9 806.9,689.1 815.1,685.9 817.1,684.4 817.4,674.9 815.1,671.9 819.4,666.1"/>
<polygon fill="#B8955B" points="807.1,689.1 807.4,715.1 813.1,715.1 815.1,717.4 821.6,714.9 830.1,714.9 836.9,716.1 840.1,716.1 846.6,715.1 847.9,715.4 847.9,714.6 846.6,713.9 838.6,713.6 834.6,712.4 833.6,710.9 833.9,710.6 835.4,711.6 840.9,709.6 843.6,707.4 846.4,709.4 849.1,707.6 850.6,707.6 851.4,706.6 855.4,691.4 842.1,692.1 820.6,692.1 819.6,691.1 816.9,685.1"/>
<polygon fill="#9A662B" points="719.9,715.1 718.6,715.9 719.6,717.1 720.4,722.9 719.6,731.6 722.1,737.1 725.4,739.6 729.6,744.6 734.6,756.9 736.9,764.4 749.9,754.1 749.9,715.9 750.6,715.1"/>
<polygon fill="#9A662B" points="777.1,708.4 760.9,708.6 760.4,709.4 760.1,715.4 750.9,715.4 750.1,715.9 750.1,749.1 784.4,749.1 784.4,730.4 782.1,730.4 781.6,729.6 779.9,722.6 778.4,714.1 778.6,713.4"/>
<polygon fill="#9A662B" points="778.6,713.6 780.1,722.6 782.1,730.1 784.6,730.4 784.6,749.1 812.9,749.1 812.9,715.4 807.4,715.4 796.4,714.1"/>
<polygon fill="#B08C54" points="813.1,715.4 813.4,761.1 848.4,761.1 847.1,755.1 845.6,750.9 841.9,745.6 840.4,739.9 841.4,733.9 844.9,730.1 847.9,717.6 847.9,715.6 846.6,715.4 840.1,716.4 836.9,716.4 830.1,715.1 821.6,715.1 815.1,717.6"/>
<polygon fill="#95591F" points="750.1,749.4 750.1,754.1 736.9,764.6 737.1,766.4 740.6,771.1 742.1,775.6 743.4,776.4 750.1,777.9 757.4,778.6 761.6,779.9 766.1,784.6 769.4,786.9 775.1,788.1 790.1,750.1 784.4,749.4"/>
<polygon fill="#9A662B" points="784.6,749.4 790.1,749.9 790.4,750.4 775.4,788.1 781.1,789.4 785.4,792.4 790.6,794.1 795.1,797.6 800.1,799.6 806.6,800.4 821.4,800.4 821.4,774.1 812.4,772.6 814.9,761.6 812.9,761.4 813.1,749.4"/>
<polygon fill="#9A662B" points="813.1,761.4 814.9,761.4 815.1,762.1 812.6,772.6 821.4,773.9 821.9,779.1 842.1,782.6 844.1,782.6 851.9,780.6 850.6,776.4 849.1,764.1 848.4,761.4"/>
<polygon fill="#A67B43" points="821.6,779.1 821.9,800.6 829.9,801.1 834.1,802.4 837.9,806.4 842.6,810.1 847.9,813.4 852.6,815.4 853.9,814.6 853.9,810.9 862.9,805.6 864.6,801.6 864.6,800.4 864.1,799.9 859.6,798.6 858.6,797.9 858.1,793.6 856.1,787.9 852.1,780.9 850.9,780.9 844.1,782.9 842.1,782.9"/>
<polygon fill="#D8CC94" points="638.1,546.4 637.1,565.1 633.4,570.9 633.4,573.1 634.9,575.1 636.4,579.6 640.4,583.1 640.6,584.1 675.9,584.4 675.6,546.4"/>
<polygon fill="#95591F" points="640.9,584.6 642.9,593.9 645.6,599.4 648.9,603.9 650.6,611.1 654.4,615.9 657.1,622.1 660.4,626.4 661.4,633.4 664.9,641.1 669.4,646.9 672.6,647.4 674.6,648.9 675.4,647.9 675.4,584.6"/>
<polygon fill="#9A6126" points="675.6,584.6 675.6,615.9 720.1,615.6 719.9,584.6"/>
<polygon fill="#A67B43" points="720.1,615.9 675.6,616.1 675.6,647.9 720.1,647.9"/>
<polygon fill="#9F7337" points="720.4,615.6 720.4,647.9 721.4,648.1 721.4,659.9 759.1,659.9 759.4,660.4 760.1,660.4 760.1,658.9 760.6,658.4 760.1,657.6 760.1,616.1"/>
<polygon fill="#95591F" points="675.1,648.1 674.6,649.4 679.9,655.9 682.6,661.1 687.4,665.1 688.6,670.9 691.9,676.9 699.4,685.1 706.1,687.4 713.9,690.9 715.4,696.6 716.4,703.1 715.4,710.6 718.4,715.6 720.6,714.6 750.4,714.6 750.9,715.1 760.1,715.1 760.1,709.1 759.6,708.6 759.1,660.1 721.4,660.1 721.1,648.1"/>
<polygon fill="#E5E3B2" points="536.4,473.4 536.4,496.1 522.1,496.6 521.9,509.1 520.4,510.4 522.1,514.1 533.9,524.1 535.1,525.6 535.4,527.4 539.4,527.4 544.9,528.4 553.1,531.6 560.1,531.4 564.6,532.1 570.9,532.1 573.1,533.1 573.1,497.6 576.4,495.4 578.1,495.1 579.6,491.9 574.6,487.6 576.6,482.9 580.6,477.6 579.6,473.4 577.9,471.4 574.6,469.6 549.6,469.6 549.6,472.9 549.1,473.4"/>
<polygon fill="#D7DAB5" points="467.6,468.6 445.1,483.6 444.9,568.9 448.9,573.6 455.1,574.9 460.4,577.4 465.6,583.6 470.9,584.4 476.4,587.9 483.1,588.9 487.1,586.1 493.9,576.9 499.4,572.1 501.9,565.4 505.1,559.1 507.6,550.4 514.1,537.4 517.6,534.9 533.9,531.9 534.6,530.9 535.4,527.6 534.6,525.1 521.9,514.1 519.6,509.9"/>
<polygon fill="#A67B43" points="376.1,465.6 378.4,470.4 382.6,482.6 389.1,495.4 390.4,510.9 395.4,522.9 399.1,535.6 407.4,545.6 410.1,546.1 414.9,548.1 418.1,552.9 424.1,558.9 428.9,562.6 436.4,564.6 443.4,565.9 444.1,566.4 444.6,568.4 444.9,483.9 408.4,475.4"/>
<polygon fill="#C4CFB4" points="965.9,437.9 959.1,442.9 954.1,442.4 953.6,445.1 952.6,446.4 941.1,452.1 940.6,453.4 940.6,455.9 937.1,465.6 942.6,470.1 942.9,469.9 955.1,476.6 970.9,476.6 972.4,475.6 971.6,460.4 973.1,446.4 967.6,445.6"/>
<polygon fill="#639C90" points="997.1,418.9 993.6,416.6 991.4,416.1 985.6,418.6 965.9,437.6 966.6,438.9 967.9,445.6 977.6,446.9 980.4,449.6 998.4,430.9 999.9,430.4 999.6,426.6 998.1,423.1"/>
<polygon fill="#7FA997" points="973.4,446.4 971.9,460.4 972.4,473.1 973.6,481.1 976.4,485.4 980.1,487.9 983.4,487.9 1010.6,475.6 1001.1,473.1 998.1,470.6 994.1,469.6 984.9,459.6 983.9,455.1 980.1,449.6 977.6,447.1"/>
<polygon fill="#93B09F" points="998.4,431.1 980.4,449.9 984.1,455.1 985.1,459.6 994.1,469.4 998.1,470.4 1001.1,472.9 1009.9,475.4 1011.6,475.4 1021.6,472.9 1013.4,438.6 1013.4,435.9 1006.9,434.1 1000.1,430.4"/>
<polygon fill="#639C90" points="1038.1,433.4 1027.6,435.4 1015.9,434.9 1013.6,435.9 1013.6,438.6 1021.9,472.6 1049.4,471.4 1050.9,464.1 1046.6,453.1 1042.6,445.4"/>
<polygon fill="#7FA997" points="1057.9,426.4 1050.1,429.1 1046.4,429.6 1041.6,432.1 1038.4,433.1 1038.9,435.4 1039.9,436.9 1042.9,445.4 1046.9,453.1 1051.1,464.1 1049.6,471.1 1051.4,472.9 1050.6,479.9 1051.4,489.9 1062.4,489.4 1061.9,453.1 1060.6,437.6"/>
<polygon fill="#7FA997" points="1077.4,419.6 1073.9,423.4 1058.1,426.4 1060.9,437.6 1062.1,453.1 1062.6,489.1 1074.6,489.1 1074.1,486.6 1072.1,481.6 1073.1,476.6 1072.6,468.6 1073.9,463.4 1076.9,457.6 1080.6,445.4 1082.1,433.1 1082.1,430.4 1080.4,424.1"/>
<polygon fill="#43908B" points="1049.6,471.4 1021.9,472.9 1011.1,475.6 1022.1,501.6 1031.1,501.6 1038.4,499.9 1042.4,497.1 1048.1,495.6 1050.9,493.6 1051.1,488.9 1050.4,479.9 1051.1,472.9"/>
<polygon fill="#52958D" points="1051.1,490.1 1051.1,493.4 1052.6,497.4 1056.4,502.6 1059.6,505.4 1065.1,507.4 1069.4,509.6 1070.9,509.4 1074.1,503.4 1075.9,498.6 1074.6,489.4 1062.6,489.4"/>
<polygon fill="#DDD4A0" points="1051.1,493.6 1048.1,495.9 1042.9,497.1 1038.4,500.1 1030.6,501.9 1030.6,517.1 1037.4,520.1 1038.6,540.1 1051.4,534.9 1059.6,532.1 1067.1,530.9 1068.4,530.1 1068.4,529.1 1064.9,525.1 1063.6,521.6 1066.9,517.6 1067.6,512.4 1070.6,509.9 1069.4,509.9 1065.1,507.6 1059.6,505.6 1055.1,501.6 1052.9,498.4"/>
<polygon fill="#9BB5A1" points="983.4,488.1 986.1,490.9 989.4,497.4 991.6,503.1 990.9,504.6 992.9,509.4 996.1,515.1 997.4,518.6 1030.4,516.9 1030.4,501.9 1022.1,501.9 1021.6,501.4 1010.9,475.6"/>
<polygon fill="#93B09F" points="942.6,470.4 943.1,474.4 943.6,495.9 939.1,500.6 939.9,503.1 944.4,505.4 945.6,507.6 961.1,500.9 964.4,503.6 975.4,508.6 977.6,510.4 986.6,503.6 987.6,503.4 990.6,504.4 991.4,503.4 989.1,497.4 985.9,490.9 983.1,488.1 980.1,488.1 975.9,485.1 973.4,481.1 972.6,475.6 970.9,476.9 955.1,476.9 942.9,470.1"/>
<polygon fill="#93B09F" points="1037.1,520.1 1030.4,517.1 997.9,518.6 997.4,518.9 999.4,527.6 999.6,532.6 997.6,537.6 999.4,540.1 1000.9,540.9 1003.4,538.4 1007.4,530.1 1010.4,526.9 1012.4,526.9 1014.4,529.4 1014.9,531.6 1015.1,536.6 1014.1,541.4 1014.1,543.1 1014.6,543.6 1019.4,543.4 1030.6,541.1 1034.9,539.6 1038.4,539.9"/>
<polygon fill="#DDD4A0" points="937.4,500.4 929.4,500.4 925.4,502.6 923.9,504.9 926.4,514.4 926.4,517.4 927.9,524.1 932.1,534.9 944.4,529.9 937.1,508.6 939.6,503.1 938.9,500.9"/>
<polygon fill="#CDBA80" points="944.4,530.1 932.1,535.1 931.6,539.4 930.9,541.6 929.9,542.6 931.6,544.6 932.9,550.6 935.1,556.4 943.1,566.6 945.9,564.6 951.4,561.9 956.4,562.6 958.1,562.1 960.6,560.4 962.4,555.9 965.4,552.9 967.9,551.6 969.4,541.9 952.1,534.1"/>
<polygon fill="#E3DDA8" points="925.1,540.9 923.6,543.1 920.6,543.6 916.6,550.4 902.1,568.4 902.1,570.6 898.6,575.4 910.4,583.4 915.4,588.4 941.1,571.4 942.9,567.1 942.6,566.1 934.9,556.4 932.6,550.6 931.4,544.6 929.6,542.6 928.1,542.4"/>
<polygon fill="#DADCB4" points="979.4,541.6 977.9,541.4 974.1,542.1 969.6,541.9 968.1,551.6 965.4,553.1 962.6,555.9 961.4,559.6 960.6,560.6 958.1,562.4 956.4,562.9 951.4,562.1 947.6,563.9 943.4,566.6 945.1,575.6 950.4,587.1 954.6,589.1 958.4,591.6 961.6,595.6 964.1,597.6 966.6,595.9 972.9,594.4 978.4,590.4 985.4,583.4 989.4,578.6 989.4,577.4 988.4,575.1 988.9,571.9 992.4,570.1 995.1,567.9 993.9,566.6 983.9,549.1 981.6,544.4 982.6,542.9"/>
<polygon fill="#C4CFB4" points="997.4,537.6 996.1,538.1 994.6,540.1 991.4,542.9 987.4,544.9 986.1,544.6 983.6,543.1 982.9,543.1 981.9,544.1 984.1,549.1 994.1,566.6 995.4,567.6 997.6,565.6 1004.1,557.6 1004.1,550.4 1003.4,546.4 999.1,542.6 1000.6,541.1 999.1,540.1"/>
<polygon fill="#E3DDA8" points="943.1,566.9 941.9,570.6 941.1,571.6 915.4,588.6 916.1,590.4 916.4,598.9 915.1,610.4 917.1,611.1 922.4,609.9 924.4,613.9 925.6,614.6 931.4,612.4 937.1,611.1 939.4,612.9 952.4,605.9 964.1,597.9 961.4,595.6 958.4,591.9 950.1,587.1 944.9,575.6"/>
<polygon fill="#A67B42" points="278.4,362.9 277.6,364.6 277.1,371.4 278.9,374.6 283.1,378.9 287.4,379.4 291.1,382.1 294.4,387.6 296.1,392.6 300.1,400.6 303.9,403.9 309.6,406.6 314.4,407.6 315.1,407.4 315.4,364.6"/>
<polygon fill="#B18C54" points="434.9,370.4 429.4,434.9 461.6,458.1 495.1,419.9 496.4,419.4 496.4,418.4 491.9,416.4 485.4,415.9 481.1,412.4 475.6,413.1 468.6,411.1 466.4,405.6 465.6,399.1 461.9,395.6 459.4,392.1 449.6,384.4 447.6,377.6 442.6,372.1 442.4,370.9 440.6,370.4"/>
<polygon fill="#8AAD9B" points="442.4,370.6 442.9,372.1 447.9,377.6 449.9,384.4 459.4,391.9 462.1,395.6 478.4,395.6 478.4,372.1"/>
<polygon fill="#D6CD97" points="510.9,365.9 497.1,365.9 495.6,364.4 495.1,372.6 478.6,372.1 478.9,396.4 510.6,396.4"/>
<polygon fill="#D8D09B" points="510.9,366.4 510.9,396.4 540.4,396.6 541.1,397.4 542.1,397.4 542.1,366.4"/>
<polygon fill="#E0DCA8" points="462.4,395.9 465.9,399.1 466.6,405.6 468.6,410.9 475.6,412.9 481.1,412.1 485.4,415.6 491.9,416.1 496.1,417.9 496.6,418.4 496.6,419.4 501.9,421.4 508.9,426.1 510.1,424.4 511.6,423.6 511.6,396.6 478.9,396.6 478.6,395.9"/>
<polygon fill="#D5C994" points="511.9,396.6 511.9,423.6 517.6,420.9 519.9,421.1 523.1,424.1 529.9,429.1 533.1,435.4 535.4,437.9 540.1,439.4 540.4,398.1 540.9,397.4 540.4,396.9"/>
<polygon fill="#B08E56" points="434.6,370.1 381.4,367.9 377.9,462.9 429.1,434.6"/>
<polygon fill="#96B2A0" points="921.6,309.4 909.1,309.9 908.1,310.9 894.1,311.4 894.1,326.9 895.4,329.1 895.9,331.9 900.9,341.9 903.1,344.6 905.6,346.6 906.9,345.4 921.9,344.4"/>
<polygon fill="#4F948C" points="921.6,309.1 922.1,309.6 922.1,344.1 956.6,343.6 956.6,340.9 952.1,334.4 950.4,328.6 950.4,321.4 951.6,320.9 947.1,313.1 935.4,308.4 927.9,306.1 923.6,308.9"/>
<polygon fill="#B8C8B0" points="950.6,321.4 950.6,328.6 951.9,333.4 956.9,340.9 956.9,343.4 959.1,348.9 961.4,356.6 989.1,356.4 989.1,328.1 986.1,328.6 978.6,328.1 969.9,326.1 961.9,325.1 956.4,323.6 951.9,320.9"/>
<polygon fill="#B3C5AD" points="1004.9,315.9 1004.9,316.6 1004.1,316.9 1003.1,319.9 1001.6,321.6 996.6,325.1 989.1,327.9 989.4,339.1 1005.9,337.9"/>
<polygon fill="#5D9A8E" points="959.4,361.6 958.1,356.6 959.1,349.6 956.9,343.6 922.1,344.4 906.9,345.6 905.9,346.6 911.4,350.1 916.4,354.9 919.9,359.4 924.1,367.4 925.1,368.4"/>
<polygon fill="#B8C8B0" points="959.4,361.9 925.1,368.6 924.6,368.1 931.1,381.6 934.6,386.4 943.4,395.1 944.6,399.4 946.9,404.4 975.4,399.1 970.6,389.4 966.4,383.9 963.4,377.9 961.6,373.1 961.1,368.1"/>
<polygon fill="#B3C5AD" points="959.1,349.9 958.4,356.6 961.1,366.9 961.9,373.1 963.6,377.9 966.6,383.9 970.9,389.4 975.4,398.9 977.9,398.9 981.6,401.4 986.4,406.1 990.1,408.6 990.9,408.4 995.6,404.6 996.9,401.6 993.6,395.4 991.1,388.4 989.9,379.6 989.1,356.6 961.4,356.9 960.9,356.4"/>
<polygon fill="#A0B8A4" points="1015.1,338.9 1005.6,338.1 989.4,339.4 989.4,359.9 990.1,378.1 1020.6,376.9 1019.1,368.6 1012.4,365.9 1011.6,357.6 1012.1,349.4"/>
<polygon fill="#87AC9A" points="1045.9,333.9 1015.4,338.9 1012.4,349.4 1011.9,357.6 1012.6,365.9 1018.9,368.4 1021.6,368.4 1048.1,365.6 1047.4,364.6"/>
<polygon fill="#ABC0A9" points="1019.4,368.6 1020.9,376.6 1022.1,376.1 1024.4,379.1 1025.6,384.6 1027.9,389.1 1030.9,391.6 1031.6,391.9 1033.4,390.6 1044.4,390.6 1049.6,393.1 1051.1,393.4 1052.9,392.6 1061.4,392.4 1062.6,391.1 1062.4,386.4 1061.6,383.9 1054.4,372.6 1048.4,365.9"/>
<polygon fill="#B8C8B0" points="990.1,378.4 991.6,389.6 993.9,395.4 997.4,401.9 1004.4,404.6 1018.1,407.4 1023.6,410.1 1028.1,414.4 1031.1,415.6 1031.6,406.4 1031.1,391.9 1027.6,389.1 1025.6,385.4 1024.4,379.6 1022.1,376.4 1020.6,377.1"/>
<polygon fill="#96B2A0" points="1033.4,390.9 1031.4,392.1 1031.9,400.6 1031.4,415.6 1033.4,416.9 1039.1,422.9 1045.9,426.6 1046.6,429.4 1048.6,429.1 1049.9,427.6 1050.4,416.9 1048.4,409.9 1049.9,403.9 1050.4,393.6 1044.4,390.9"/>
<polygon fill="#47918B" points="1061.1,392.6 1052.9,392.9 1050.6,393.6 1050.1,403.9 1048.6,409.9 1050.6,416.9 1050.1,427.6 1049.4,428.9 1057.9,426.1 1073.9,423.1 1077.1,419.4 1072.4,411.9 1068.6,403.6 1064.9,398.6 1059.9,394.1"/>
<polygon fill="#B3C5AD" points="990.6,408.6 991.9,410.4 991.9,415.9 994.6,416.9 997.6,419.4 998.4,423.1 999.9,426.6 1000.1,430.1 1006.9,433.9 1013.1,435.6 1015.9,434.6 1027.6,435.1 1038.1,433.1 1041.6,431.9 1046.4,429.4 1045.9,426.9 1039.1,423.1 1033.4,417.1 1028.1,414.6 1023.6,410.4 1018.1,407.6 1004.4,404.9 997.1,401.9 995.9,404.6"/>
<polygon fill="#B3C5AD" points="977.9,399.1 972.9,399.6 946.6,404.9 944.6,409.1 947.6,415.1 948.9,423.1 946.1,431.1 950.1,437.9 952.9,438.9 953.4,441.6 953.9,442.1 959.1,442.6 964.6,438.6 985.6,418.4 991.6,415.9 991.6,410.4 990.9,409.4 986.4,406.4 981.6,401.6"/>
<polygon fill="#6CA190" points="944.4,399.4 908.6,416.6 908.4,417.6 911.1,431.4 915.4,447.9 927.9,445.1 939.1,440.6 950.1,438.1 945.9,431.1 948.6,422.4 947.4,415.1 944.4,409.1 946.6,404.6"/>
<polygon fill="#9BB5A1" points="924.4,367.9 921.6,368.1 900.1,381.1 900.6,384.1 899.9,385.9 903.1,393.1 906.9,409.1 909.1,414.4 909.1,415.9 944.4,399.1 943.1,395.1 934.4,386.4 930.4,380.9"/>
</g>
<defs><linearGradient id="lg" x1="0" x2="1" y1="0" y2="0">
<stop offset="0.0000" stop-color="#8F5A22"/><stop offset="0.0990" stop-color="#A0733A"/><stop offset="0.1858" stop-color="#AD864E"/><stop offset="0.2500" stop-color="#B8965E"/><stop offset="0.3420" stop-color="#C7AE77"/><stop offset="0.4288" stop-color="#D6C792"/><stop offset="0.5000" stop-color="#E3DEAE"/><stop offset="0.5365" stop-color="#DEDCB0"/><stop offset="0.5851" stop-color="#C8D1B4"/><stop offset="0.6372" stop-color="#B3C5AD"/><stop offset="0.6892" stop-color="#9BB5A1"/><stop offset="0.7500" stop-color="#7FA997"/><stop offset="0.8281" stop-color="#5D9A8E"/><stop offset="0.8976" stop-color="#43908B"/><stop offset="0.9497" stop-color="#2F7F8D"/><stop offset="1.0000" stop-color="#1F6F94"/>
</linearGradient></defs>
<rect x="43" y="685" width="576" height="38.2" fill="url(#lg)"/>
<text x="116" y="663" font-size="37.6" textLength="430" lengthAdjust="spacingAndGlyphs">percent identifying as white</text>
<text x="33.5" y="764" font-size="29.3" textLength="40.5" lengthAdjust="spacingAndGlyphs">0%</text>
<text x="165.8" y="764" font-size="29.3" textLength="56.5" lengthAdjust="spacingAndGlyphs">25%</text>
<text x="302.5" y="764" font-size="29.3" textLength="56.5" lengthAdjust="spacingAndGlyphs">50%</text>
<text x="440" y="764" font-size="29.3" textLength="56.5" lengthAdjust="spacingAndGlyphs">75%</text>
<text x="574" y="764" font-size="29.3" textLength="71" lengthAdjust="spacingAndGlyphs">100%</text>
</svg>
</body>
</html>
